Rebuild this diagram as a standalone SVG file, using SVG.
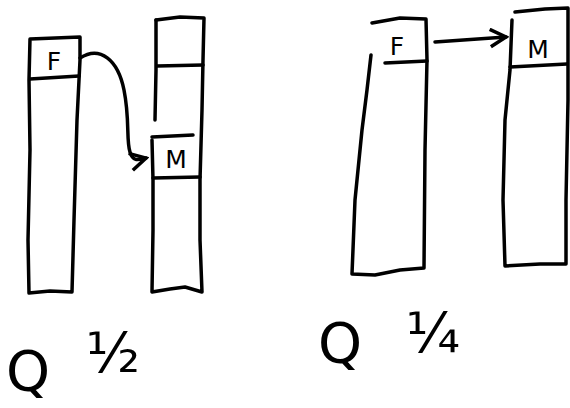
<svg xmlns="http://www.w3.org/2000/svg" width="570" height="408" viewBox="0 0 570 408">
<style>
.s{fill:none;stroke:#000;stroke-width:3.5;stroke-linecap:round;stroke-linejoin:round}
.t{font-family:"DejaVu Sans","Liberation Sans",sans-serif;fill:#000}
.lbl{font-size:25px}
.big{font-size:56px;font-weight:normal}
</style>
<defs>
<marker id="ah" viewBox="0 0 12 12" refX="10" refY="6" markerWidth="6" markerHeight="6" orient="auto" markerUnits="strokeWidth">
<path d="M1,1 L10,6 L1,11" fill="none" stroke="#000" stroke-width="2"/>
</marker>
</defs>
<rect width="570" height="408" fill="#fff"/>

<g id="colA">
<path class="s" d="M30,39 L80,37 L80,60 L77,120 L74,220 L72,292 L50,291 L29,293 L28,240 L30,150 L29,80 Z"/>
<path class="s" d="M30,79 L79,76"/>
<text class="t lbl" x="54" y="70" text-anchor="middle">F</text>
</g>

<g id="colB">
<path class="s" d="M156,20 L180,17 L204,18 L203,60 L202,110 L200,180 L200,240 L202,292 L185,287 L170,289 L152,292 L153,230 L153,180 L152,140"/>
<path class="s" d="M156,20 L156,70 L155,120"/>
<path class="s" d="M157,66 L203,65"/>
<path class="s" d="M152,137 L193,135"/>
<path class="s" d="M153,178 L200,177"/>
<text class="t lbl" x="176" y="168" text-anchor="middle">M</text>
</g>

<g id="colC">
<path class="s" d="M372,23 L400,18 L426,19 L427,60 L425,150 L424,268 L400,270 L375,275 L352,274 L355,200 L362,130 L367,90 L371,55"/>
<path class="s" d="M385,63 L427,61"/>
<text class="t lbl" x="397" y="55" text-anchor="middle">F</text>
</g>

<g id="colD">
<path class="s" d="M515,12 L545,9 L568,8 L568,100 L566,200 L566,264 L540,264 L505,266 L503,200 L505,120 L510,70 L512,20"/>
<path class="s" d="M510,67 L567,64"/>
<text class="t lbl" x="538" y="58" text-anchor="middle">M</text>
</g>

<g id="connectors">
<path class="s" d="M80,58 C100,45 118,60 124,90 C130,120 126,140 130,152 C133,162 138,160 146,158" marker-end="url(#ah)"/>
<path class="s" d="M435,42 L506,37" marker-end="url(#ah)"/>
</g>

<g id="labels">
<text class="t big" x="28" y="390" text-anchor="middle">Q</text>
<text class="t big" x="113" y="372" text-anchor="middle">½</text>
<text class="t big" x="340" y="362" text-anchor="middle">Q</text>
<text class="t big" x="433" y="352" text-anchor="middle">¼</text>
</g>
</svg>
